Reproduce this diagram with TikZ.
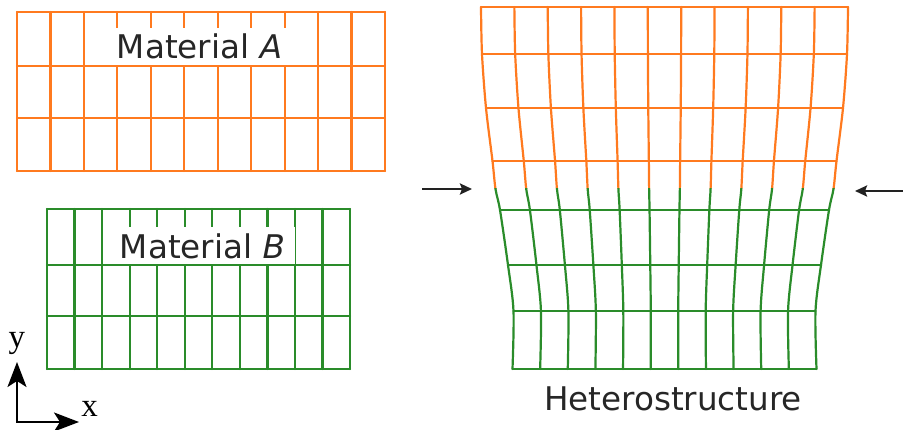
\documentclass[tikz,border=0pt]{standalone}
\usepackage{fontspec}
\setsansfont{DejaVu Sans}
\newfontfamily\axisfont{Liberation Serif}
\usetikzlibrary{arrows.meta}
\definecolor{matorange}{HTML}{FF7A1F}
\definecolor{matgreen}{HTML}{2A8C2A}
\definecolor{arrowgray}{HTML}{222222}

\begin{document}
\begin{tikzpicture}[x=1pt, y=-1pt,
    gridA/.style={matorange, line width=2.2pt, line cap=round, line join=round},
    gridB/.style={matgreen, line width=2.2pt, line cap=round, line join=round},
    lbl/.style={font=\sffamily\fontsize{32.6}{38}\selectfont, text=black!85,
                fill=white, inner sep=0pt, minimum width=185pt, minimum height=37pt},
    push/.style={->, >={Stealth[length=12pt, width=11pt, inset=2pt]}, line width=2.4pt, arrowgray},
    axis/.style={<->, >={Stealth[length=25pt, width=19pt, inset=6pt]},
                 line width=2.2pt, black, line join=miter},
    ax/.style={font=\axisfont\fontsize{33}{36}\selectfont, anchor=base, inner sep=0pt},
]
    \useasboundingbox (0,0) rectangle (903,430);

    % === material A ===
    \foreach \i in {0,...,11}
        \draw[gridA] ({17+\i*33.45},12) -- ({17+\i*33.45},171);
    \foreach \y in {12,66,118,171}
        \draw[gridA] (17,\y) -- (385,\y);
    \node[lbl] (labA) at (199.5,46.5) {Material \textit{A}};

    % === material B ===
    \foreach \i in {0,...,11}
        \draw[gridB] ({47+\i*27.55},209) -- ({47+\i*27.55},369);
    \foreach \y in {209,265,316,369}
        \draw[gridB] (47,\y) -- (350,\y);
    \node[lbl] (labB) at (202.5,246) {Material \textit{B}};

    % === heterostructure ===
    \def\cx{664.5}
    \foreach \y/\w in {7/183.5, 54/182.5, 108/178.5, 161/172}
        \draw[gridA] ({\cx-\w},\y) -- ({\cx+\w},\y);
    \foreach \y/\w in {210/164.5, 265/156.5, 311/151, 369/152}
        \draw[gridB] ({\cx-\w},\y) -- ({\cx+\w},\y);
    \foreach \i in {0,...,11}{
        \pgfmathsetmacro\f{(\i-5.5)/5.5}
        \begin{scope}
            \clip (400,0) rectangle (903,189);
            \draw[gridA] plot[smooth] coordinates {({\cx+\f*183.5},7) ({\cx+\f*182.5},54)
                ({\cx+\f*178.5},108) ({\cx+\f*172},161) ({\cx+\f*169},189) ({\cx+\f*164.5},210)
                ({\cx+\f*156.5},265) ({\cx+\f*151},311) ({\cx+\f*152},369)};
        \end{scope}
        \begin{scope}
            \clip (400,189) rectangle (903,430);
            \draw[gridB] plot[smooth] coordinates {({\cx+\f*183.5},7) ({\cx+\f*182.5},54)
                ({\cx+\f*178.5},108) ({\cx+\f*172},161) ({\cx+\f*169},189) ({\cx+\f*164.5},210)
                ({\cx+\f*156.5},265) ({\cx+\f*151},311) ({\cx+\f*152},369)};
        \end{scope}
    }
    \node[font=\sffamily\fontsize{32.6}{38}\selectfont, text=black!85, anchor=base]
        (hetero) at (673,410) {Heterostructure};

    % compression arrows
    \coordinate (lfrom) at (422,189);
    \coordinate (lto) at (472,189);
    \coordinate (rfrom) at (903,191);
    \coordinate (rto) at (855,191);
    \draw[push] (lfrom) -- (lto);
    \draw[push] (rfrom) -- (rto);

    % axes
    \coordinate (origin) at (17,422);
    \coordinate (ytip) at (17,362);
    \coordinate (xtip) at (79,422);
    \draw[axis] (ytip) -- (origin) -- (xtip);
    \node[ax] (ylab) at (17,348) {y};
    \node[ax] (xlab) at (89.5,417) {x};
\end{tikzpicture}
\end{document}
